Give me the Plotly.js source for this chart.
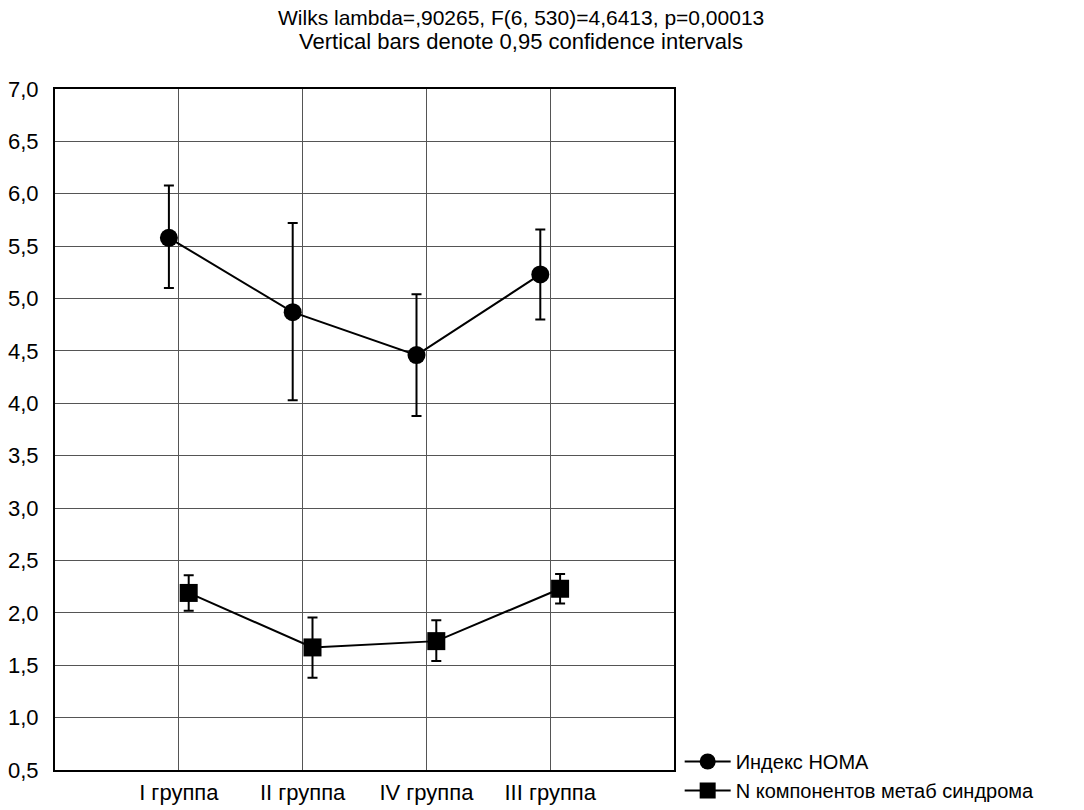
<!DOCTYPE html>
<html>
<head>
<meta charset="utf-8">
<script src="https://cdn.plot.ly/plotly-3.0.1.min.js"></script>
<style>html,body{margin:0;padding:0;background:#fff;}#chart{width:1084px;height:810px;}</style>
</head>
<body>
<div id="chart"></div>
<script>
const categories = ["I группа", "II группа", "IV группа", "III группа"];
const seriesNames = ["Индекс HOMA", "N компонентов метаб синдрома"];
const homaMean  = [5.58, 4.87, 4.46, 5.23];
const homaUpper = [6.08, 5.72, 5.04, 5.66];
const homaLower = [5.10, 4.03, 3.88, 4.80];
const nMean  = [2.19, 1.67, 1.73, 2.23];
const nUpper = [2.36, 1.955, 1.93, 2.37];
const nLower = [2.02, 1.38, 1.54, 2.09];
const yTicks = [0.5, 1.0, 1.5, 2.0, 2.5, 3.0, 3.5, 4.0, 4.5, 5.0, 5.5, 6.0, 6.5, 7.0];
const titleLines = ["Wilks lambda=,90265, F(6, 530)=4,6413, p=0,00013", "Vertical bars denote 0,95 confidence intervals"];

const shift = 0.08;
const idx = categories.map((c, i) => i);

function trace(name, mean, upper, lower, symbol, dx) {
  return {
    type: 'scatter', mode: 'lines+markers', name: name,
    x: idx.map(i => i + dx), y: mean,
    line: {color: '#000', width: 2},
    marker: {symbol: symbol, size: 18, color: '#000'},
    error_y: {
      type: 'data', symmetric: false,
      array: upper.map((u, i) => u - mean[i]),
      arrayminus: mean.map((m, i) => m - lower[i]),
      color: '#000', thickness: 2, width: 5
    },
    hoverinfo: 'skip'
  };
}

const data = [
  trace(seriesNames[0], homaMean, homaUpper, homaLower, 'circle', -shift),
  trace(seriesNames[1], nMean, nUpper, nLower, 'square', shift)
];

const layout = {
  width: 1084, height: 810,
  paper_bgcolor: '#fff', plot_bgcolor: '#fff',
  separators: ', ',
  font: {family: 'Liberation Sans, Arial, sans-serif', size: 22, color: '#000'},
  margin: {l: 55, r: 410, t: 89, b: 40, pad: 0},
  annotations: [
    {text: titleLines[0], xref: 'paper', yref: 'paper', x: 0.753, y: 1 + (89 - 17) / 681,
     xanchor: 'center', yanchor: 'middle', showarrow: false, font: {size: 21}},
    {text: titleLines[1], xref: 'paper', yref: 'paper', x: 0.753, y: 1 + (89 - 42) / 681,
     xanchor: 'center', yanchor: 'middle', showarrow: false, font: {size: 22}}
  ],
  xaxis: {
    range: [-1, 4], tickvals: idx, ticktext: categories,
    showgrid: true, gridcolor: '#555', gridwidth: 1,
    zeroline: false, showline: true, linecolor: '#000', linewidth: 2, mirror: true,
    ticks: '', tickfont: {size: 22}, ticklabelstandoff: 2
  },
  yaxis: {
    range: [0.5, 7.0], tickvals: yTicks, tickformat: '.1f',
    showgrid: true, gridcolor: '#555', gridwidth: 1,
    zeroline: false, showline: true, linecolor: '#000', linewidth: 2, mirror: true,
    ticks: '', tickfont: {size: 22}, ticklabelstandoff: 10
  },
  showlegend: true,
  legend: {
    xref: 'container', yref: 'container',
    x: 0.627, xanchor: 'left', y: 0, yanchor: 'bottom',
    font: {size: 20}, bgcolor: 'rgba(0,0,0,0)', borderwidth: 0,
    tracegroupgap: 0, itemwidth: 46
  }
};

Plotly.newPlot('chart', data, layout, {displayModeBar: false, staticPlot: true});
</script>
</body>
</html>
